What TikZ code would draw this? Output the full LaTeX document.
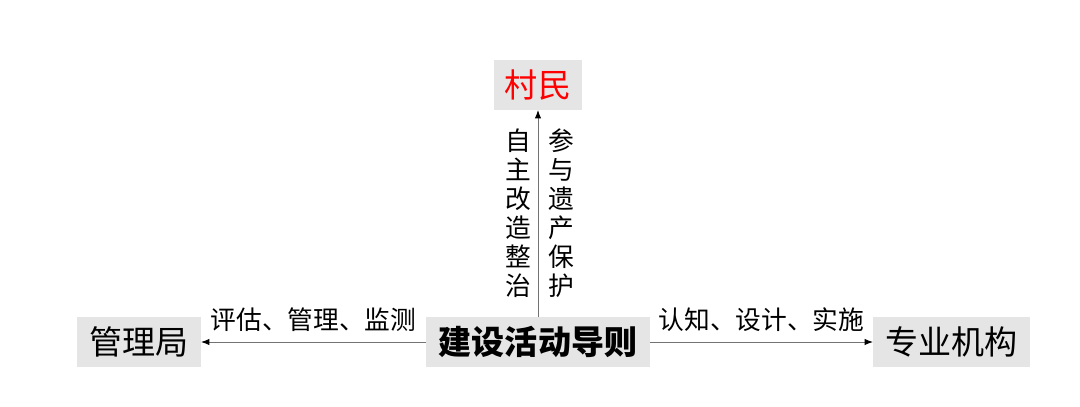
\documentclass[tikz,border=0pt]{standalone}
\usepackage{fontspec}
\usepackage{tikz}
\usetikzlibrary{positioning,arrows.meta,calc}
\setmainfont{Noto Sans CJK SC}
\newfontfamily\cjk{Noto Sans CJK SC}

\begin{document}
\begin{tikzpicture}[
            x=0.025cm, y=-0.025cm,
            outer sep=0pt,
            % Style ô: nền xám nhạt
            box/.style={
                fill=gray!20,
                minimum height=1.25cm,
                inner sep=0pt,
                align=center,
                font=\cjk\fontsize{23.5}{26}\selectfont
            },
            % Style mũi tên
            link/.style={
                draw=black!55,
                line width=0.7pt,
                -{Latex[length=6pt, width=4.6pt, color=black]}
            },
            % Style nhãn
            lbl/.style={
                font=\cjk\fontsize{18.3}{20.6}\selectfont,
                align=center,
                inner sep=0pt
            }
        ]
            \useasboundingbox (0,0) rectangle (1080,407);

            % --- CÁC Ô ---
            \node[box, minimum width=5.6cm, font=\cjk\bfseries\fontsize{23.5}{26}\selectfont] (guize) at (538,342) {建设活动导则};
            \node[box, minimum width=2.2cm, text=red] (cunmin) at (538,85) {村民};
            \node[box, minimum width=3.1cm] (guanli) at (139,342) {管理局};
            \node[box, minimum width=3.925cm] (zhuanye) at (951.5,342) {专业机构};

            % --- MŨI TÊN ---
            \draw[link] (guize) -- (guanli)
                node[lbl, midway, above=0.25cm] {评估、管理、监测};
            \draw[link] (guize) -- (zhuanye)
                node[lbl, midway, above=0.25cm] {认知、设计、实施};
            \draw[link] (guize) -- (cunmin)
                node[lbl, midway, left=0.17cm] {自\\主\\改\\造\\整\\治}
                node[lbl, midway, right=0.25cm] {参\\与\\遗\\产\\保\\护};

        \end{tikzpicture}
\end{document}
